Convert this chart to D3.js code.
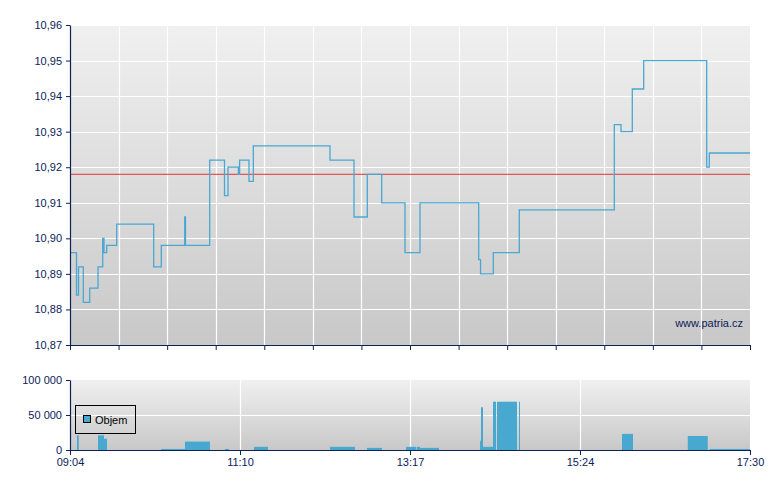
<!DOCTYPE html>
<html><head><meta charset="utf-8">
<script src="https://cdn.jsdelivr.net/npm/d3@7"></script>
<style>
body{margin:0;background:#fff}
svg{display:block}
text{font-family:"Liberation Sans",Arial,sans-serif;font-size:11px}
</style>
</head><body><svg id="c" width="780" height="490"></svg>
<script>
// ---- data ----
const priceTimes = ["09:04:00","09:08:50","09:10:20","09:13:54","09:18:40","09:24:50","09:28:20","09:29:18","09:31:19","09:38:45",
  "10:06:17","10:11:56","10:29:21","10:29:56","10:47:57","10:58:58","11:01:34","11:09:19","11:10:12","11:17:12",
  "11:20:24","12:17:28","12:35:20","12:45:14","12:55:56","13:13:17","13:24:26","14:08:07","14:09:30","14:10:48",
  "14:18:59","14:38:20","15:49:02","15:54:01","16:02:25","16:10:54","16:57:47","16:59:43","17:30:00"];
const priceValues = [10.896,10.884,10.892,10.882,10.886,10.892,10.900,10.896,10.898,10.904,
  10.892,10.898,10.906,10.898,10.922,10.912,10.920,10.918,10.922,10.916,
  10.926,10.922,10.906,10.918,10.910,10.896,10.910,10.894,10.890,10.890,
  10.896,10.908,10.932,10.930,10.942,10.950,10.920,10.924,10.924];
const referencePrice = 10.918;

const volStart = ["09:09:13","09:24:50","09:29:18","10:11:43","10:29:34","10:59:20","11:20:55","12:17:28","12:45:00","13:14:01",
  "13:21:59","13:24:26","14:09:05","14:09:50","14:11:19","14:18:46","14:21:44","14:38:07","15:54:46","16:43:41","17:00:03"];
const volEnd   = ["09:10:28","09:29:18","09:31:32","10:29:34","10:48:11","11:02:19","11:31:20","12:36:04","12:56:10","13:21:28",
  "13:24:26","13:38:35","14:09:50","14:11:19","14:18:46","14:21:00","14:36:37","14:38:51","16:02:56","16:58:34","17:30:00"];
const volValues = [21000,21000,16000,1500,12000,1500,4500,4500,3000,4500,
  4500,3000,13000,61000,4500,69000,69000,69000,23000,20000,1500];

const priceTicks = [10.87,10.88,10.89,10.90,10.91,10.92,10.93,10.94,10.95,10.96];
const volTicks = [0,50000,100000];
const timeTickLabels = ["09:04","11:10","13:17","15:24","17:30"];
const sessionStart = "09:04:00", sessionEnd = "17:30:00";
const legendLabel = "Objem";
const watermark = "www.patria.cz";

// ---- setup ----
const parse = d3.timeParse("%H:%M:%S");
const loc = d3.formatLocale({decimal:",", thousands:" ", grouping:[3], currency:["",""]});
const fmtPrice = loc.format(".2f");
const fmtVol = loc.format(",d");
const navy = "#0c2157", lineCol = "#4aa7d2", barCol = "#48a8d0";

const svg = d3.select("#c");
const defs = svg.append("defs");
const grad = defs.append("linearGradient").attr("id","bg").attr("x1",0).attr("y1",0).attr("x2",0).attr("y2",1);
grad.append("stop").attr("offset","0%").attr("stop-color","#f0f0f0");
grad.append("stop").attr("offset","100%").attr("stop-color","#c8c8c8");

const L = 70, R = 750;
const t0 = parse(sessionStart), t1 = parse(sessionEnd);
const x = d3.scaleTime().domain([t0,t1]).range([L,R]);

// ---- price panel ----
const pTop = 25, pBot = 345;
const y = d3.scaleLinear().domain([priceTicks[0], priceTicks[priceTicks.length-1]]).range([pBot,pTop]);
svg.append("rect").attr("x",L).attr("y",pTop).attr("width",R-L).attr("height",pBot-pTop).attr("fill","url(#bg)");

const gridTimes = d3.range(15).map(i => new Date(+t0 + i*(t1-t0)/14));
const g1 = svg.append("g");
g1.selectAll("line.h").data(priceTicks.slice(1)).join("line")
  .attr("x1",L).attr("x2",R).attr("y1",d=>Math.round(y(d))+0.5).attr("y2",d=>Math.round(y(d))+0.5)
  .attr("stroke","#fff").attr("stroke-width",1.2);
g1.selectAll("line.v").data(gridTimes.slice(1,-1)).join("line")
  .attr("y1",pTop).attr("y2",pBot).attr("x1",d=>Math.round(x(d))+0.5).attr("x2",d=>Math.round(x(d))+0.5)
  .attr("stroke","#fff").attr("stroke-width",1.2);

// reference line
svg.append("line").attr("x1",L).attr("x2",R).attr("y1",y(referencePrice)).attr("y2",y(referencePrice))
  .attr("stroke","#e04a4a").attr("stroke-width",1.4).attr("opacity",0.9);

const pts = priceTimes.map((t,i)=>({t:parse(t), v:priceValues[i]}));
svg.append("path").datum(pts)
  .attr("d", d3.line().x(d=>x(d.t)).y(d=>y(d.v)).curve(d3.curveStepAfter))
  .attr("fill","none").attr("stroke",lineCol).attr("stroke-width",1.3);

svg.append("text").attr("x",743).attr("y",327).attr("text-anchor","end").attr("fill",navy).text(watermark);

function styleAxis(g){
  g.attr("font-size",11).attr("font-family",'"Liberation Sans",Arial,sans-serif');
  g.selectAll(".domain").attr("stroke",navy).attr("stroke-width",1.2);
  g.selectAll(".tick line").attr("stroke",navy);
  g.selectAll(".tick text").attr("fill",navy);
}
svg.append("g").attr("transform",`translate(${L},0)`)
  .call(d3.axisLeft(y).tickValues(priceTicks).tickFormat(fmtPrice).tickSize(4).tickSizeOuter(0).tickPadding(4))
  .call(styleAxis);
svg.append("g").attr("transform",`translate(0,${pBot})`)
  .call(d3.axisBottom(x).tickValues(gridTimes).tickFormat("").tickSize(5).tickSizeOuter(0))
  .call(styleAxis);

// ---- volume panel ----
const vTop = 380, vBot = 450;
const yv = d3.scaleLinear().domain([0, volTicks[volTicks.length-1]]).range([vBot,vTop]);
svg.append("rect").attr("x",L).attr("y",vTop).attr("width",R-L).attr("height",vBot-vTop).attr("fill","url(#bg)");
const qTimes = d3.range(5).map(i => new Date(+t0 + i*(t1-t0)/4));
const g2 = svg.append("g");
g2.selectAll("line.h").data(volTicks.slice(1,-1)).join("line")
  .attr("x1",L).attr("x2",R).attr("y1",d=>Math.round(yv(d))+0.5).attr("y2",d=>Math.round(yv(d))+0.5)
  .attr("stroke","#fff").attr("stroke-width",1.2);
g2.selectAll("line.v").data(qTimes.slice(1,-1)).join("line")
  .attr("y1",vTop).attr("y2",vBot).attr("x1",d=>Math.round(x(d))+0.5).attr("x2",d=>Math.round(x(d))+0.5)
  .attr("stroke","#fff").attr("stroke-width",1.2);

const bars = volValues.map((v,i)=>({s:parse(volStart[i]), e:parse(volEnd[i]), v}));
svg.append("g").selectAll("rect").data(bars).join("rect")
  .attr("x",d=>x(d.s)).attr("width",d=>Math.max(1,x(d.e)-x(d.s)))
  .attr("y",d=>yv(d.v)).attr("height",d=>yv(0)-yv(d.v)).attr("fill",barCol);

svg.append("g").attr("transform",`translate(${L},0)`)
  .call(d3.axisLeft(yv).tickValues(volTicks).tickFormat(fmtVol).tickSize(4).tickSizeOuter(0).tickPadding(4))
  .call(styleAxis);
svg.append("g").attr("transform",`translate(0,${vBot})`)
  .call(d3.axisBottom(x).tickValues(qTimes).tickFormat((d,i)=>timeTickLabels[i]).tickSize(5).tickSizeOuter(0).tickPadding(3))
  .call(styleAxis);

// legend
const lg = svg.append("g");
lg.append("rect").attr("x",75.5).attr("y",405.5).attr("width",60).attr("height",28).attr("fill","none").attr("stroke","#000");
lg.append("rect").attr("x",83.5).attr("y",415.5).attr("width",7).attr("height",7).attr("fill",barCol).attr("stroke","#000");
lg.append("text").attr("x",95).attr("y",424).attr("fill","#000").text(legendLabel);
</script>
</body></html>
